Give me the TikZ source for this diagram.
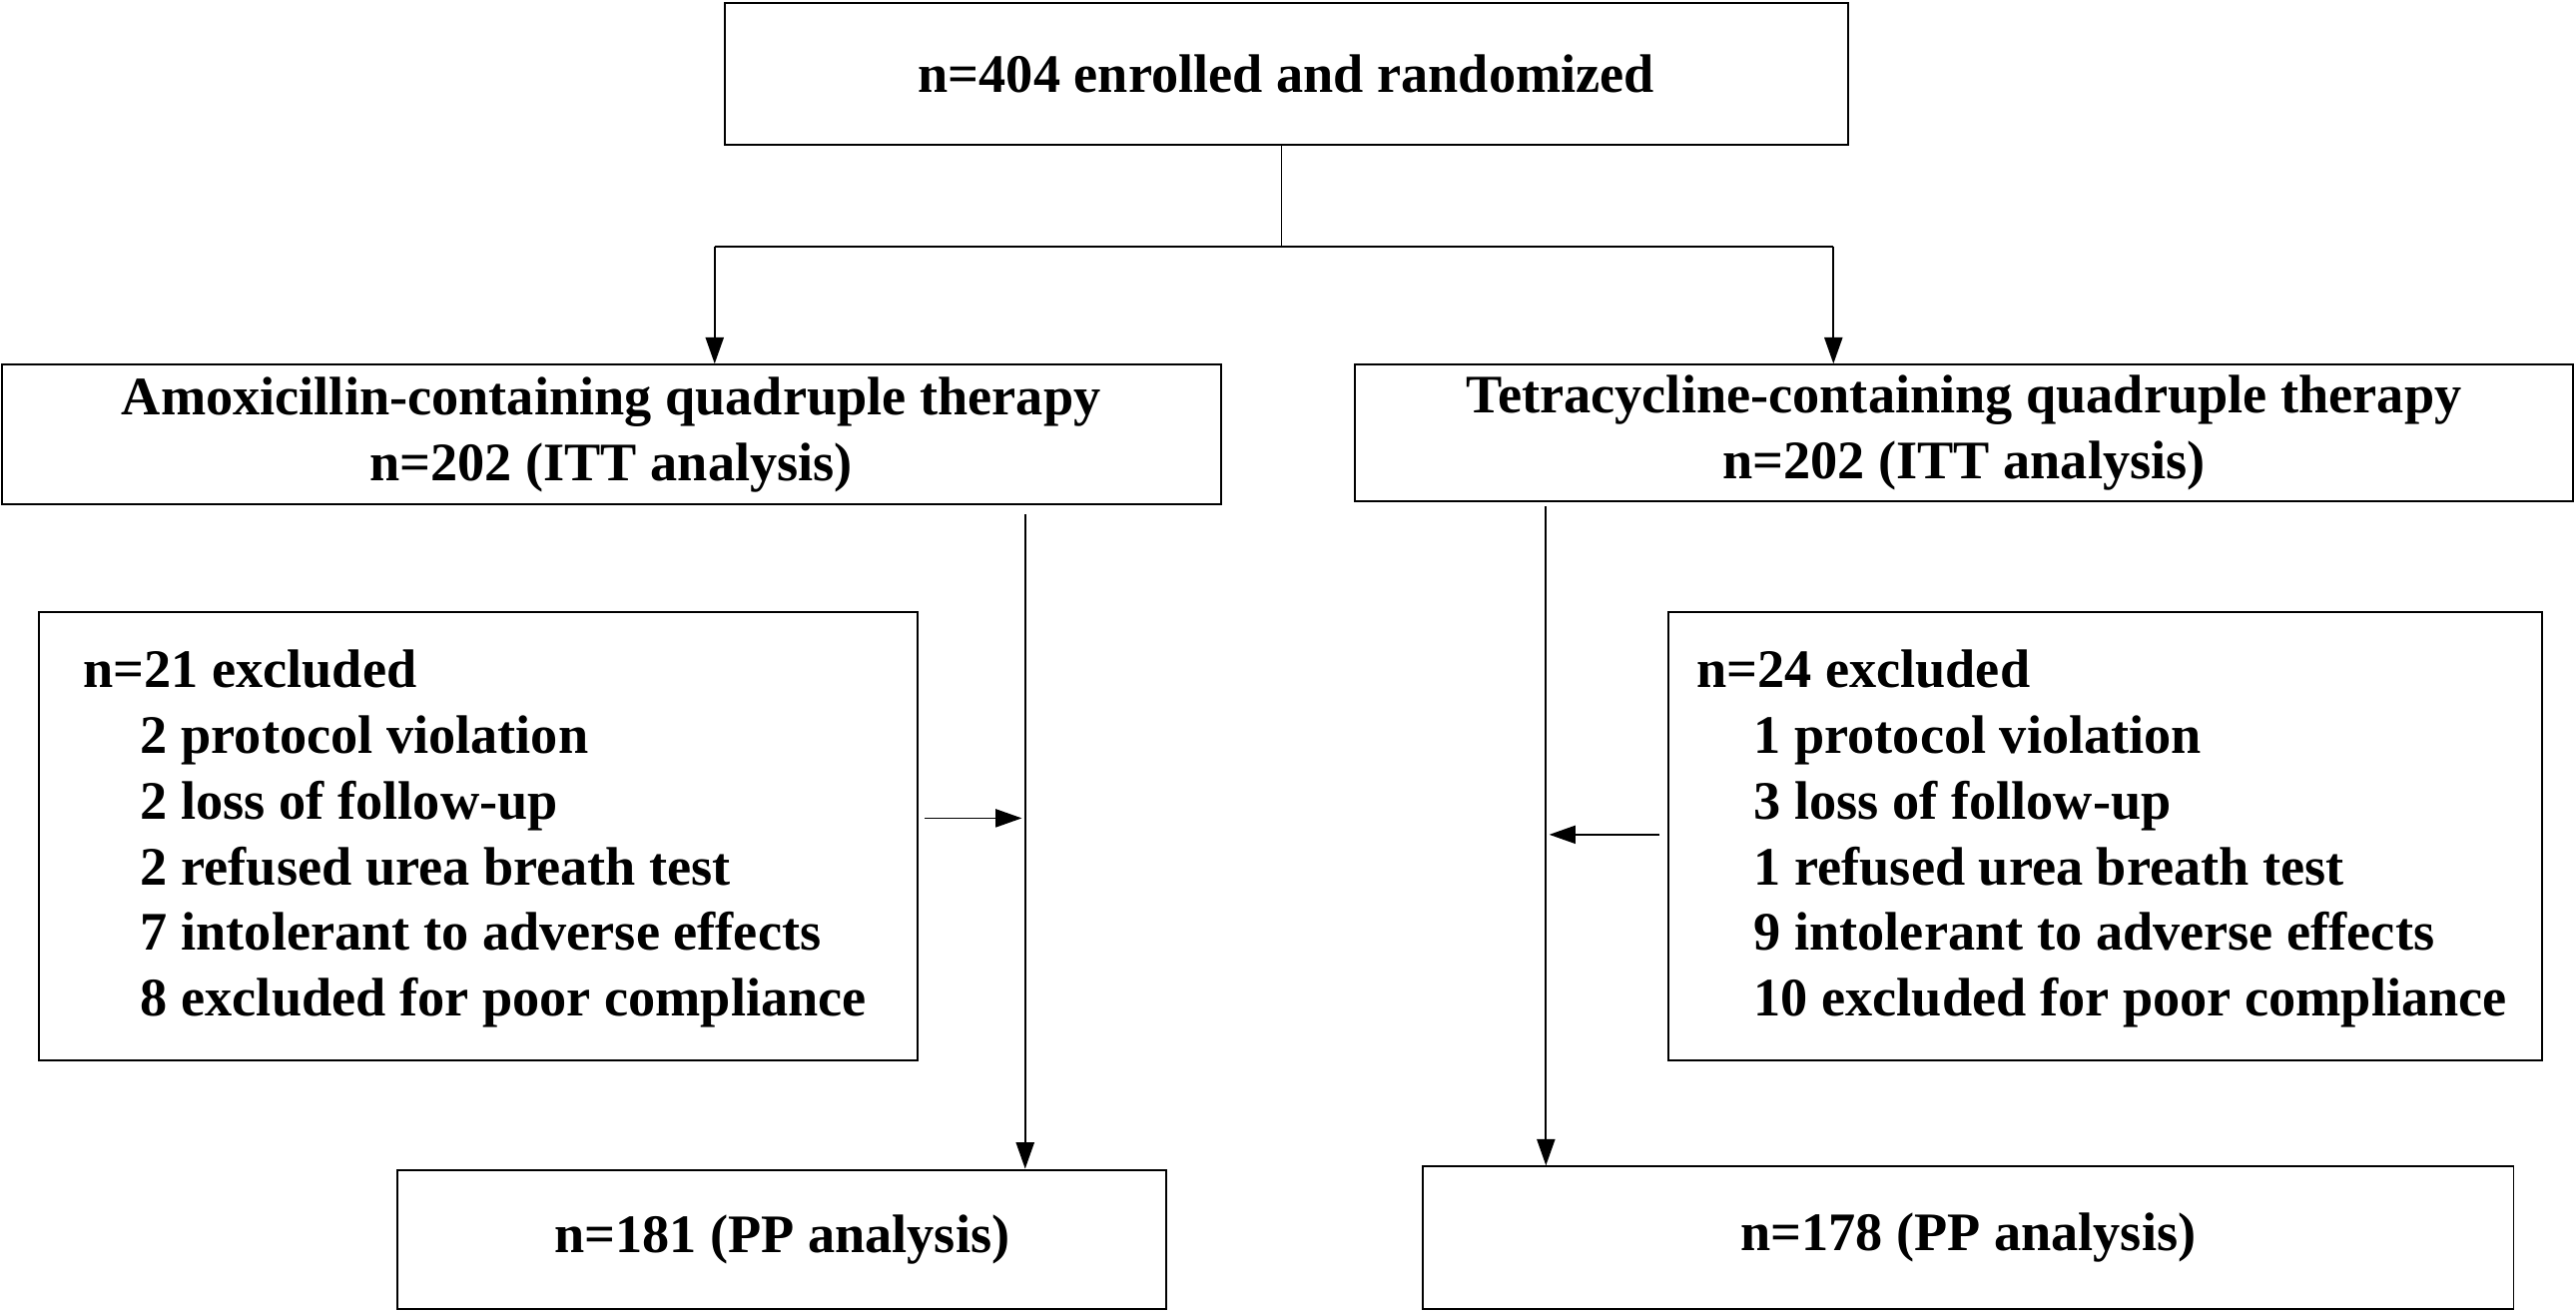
\documentclass[tikz,border=0pt]{standalone}
\usepackage{fontspec}
\setmainfont{Liberation Serif}
\usetikzlibrary{arrows.meta}
\begin{document}
\begin{tikzpicture}[x=1pt,y=-1pt,
 box/.style={draw,line width=1.2pt,inner sep=0pt,font=\fontsize{33}{40}\selectfont\bfseries,align=center},
 conn/.style={line width=1.1pt},
 arr/.style={conn,-{Triangle[length=16pt,width=11pt]}}]
\useasboundingbox (0,0) rectangle (1568,799);
\node[box,minimum width=684pt,minimum height=86pt] (top) at (783,45) {n=404 enrolled and randomized};
\node[box,minimum width=742pt,minimum height=85pt] (amox) at (372,264.5) {Amoxicillin-containing quadruple therapy\\n=202 (ITT analysis)};
\node[box,minimum width=741pt,minimum height=83pt] (tetra) at (1195.5,263.5) {Tetracycline-containing quadruple therapy\\n=202 (ITT analysis)};
\node[box,minimum width=535pt,minimum height=273pt,anchor=north west] (exL) at (23,372) {};
\node[box,draw=none,align=left,anchor=north west] (exLt) at (50,395) {n=21 excluded\\
\hspace*{35pt}2 protocol violation\\\hspace*{35pt}2 loss of follow-up\\\hspace*{35pt}2 refused urea breath test\\\hspace*{35pt}7 intolerant to adverse effects\\\hspace*{35pt}8 excluded for poor compliance};
\node[box,minimum width=532pt,minimum height=273pt,anchor=north west] (exR) at (1015,372) {};
\node[box,draw=none,align=left,anchor=north west] (exRt) at (1032,395) {n=24 excluded\\
\hspace*{35pt}1 protocol violation\\\hspace*{35pt}3 loss of follow-up\\\hspace*{35pt}1 refused urea breath test\\\hspace*{35pt}9 intolerant to adverse effects\\\hspace*{35pt}10 excluded for poor compliance};
\node[box,minimum width=468pt,minimum height=85pt] (ppL) at (476,754.5) {n=181 (PP analysis)};
\node[box,minimum width=664pt,minimum height=87pt] (ppR) at (1198,753.5) {n=178 (PP analysis)};
\coordinate (j) at (780,150);
\coordinate (jl) at (435,150);
\coordinate (jr) at (1116,150);
\draw[conn] (top.south -| j) -- (j);
\draw[conn] (jl) -- (jr);
\draw[arr] (jl) -- (jl |- amox.north);
\draw[arr] (jr) -- (jr |- tetra.north);
\coordinate (lt) at (624,313);
\coordinate (rt) at (941,308);
\draw[arr] (lt) -- (lt |- ppL.north);
\draw[arr] (rt) -- (rt |- ppR.north);
\coordinate (la) at (563,498);
\coordinate (ra) at (1010,508);
\draw[arr] (la) -- (622,498);
\draw[arr] (ra) -- (943,508);
\end{tikzpicture}
\end{document}
